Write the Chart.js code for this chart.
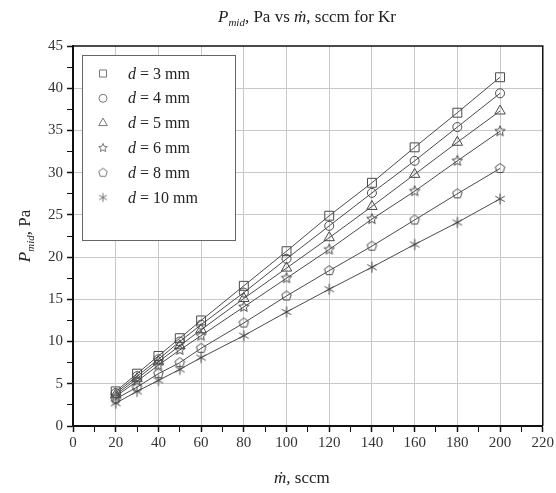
<!DOCTYPE html>
<html>
<head>
<meta charset="utf-8">
<script src="https://cdn.jsdelivr.net/npm/chart.js@4/dist/chart.umd.min.js"></script>
<style>
  body { margin: 0; background: #fff; }
  #wrap { width: 556px; height: 493px; }
</style>
</head>
<body>
<div id="wrap"><canvas id="pressureChart"></canvas></div>
<script>
const flowRates = [20, 30, 40, 50, 60, 80, 100, 120, 140, 160, 180, 200];

const d3mm  = [4.1, 6.2, 8.3, 10.4, 12.5, 16.6, 20.7, 24.9, 28.8, 33.0, 37.1, 41.3];
const d4mm  = [3.9, 5.9, 7.9, 10.0, 12.0, 15.8, 19.8, 23.7, 27.6, 31.4, 35.4, 39.4];
const d5mm  = [3.7, 5.6, 7.6, 9.5, 11.4, 15.1, 18.7, 22.3, 26.0, 29.8, 33.6, 37.3];
const d6mm  = [3.5, 5.3, 7.2, 9.0, 10.7, 14.1, 17.5, 20.9, 24.5, 27.8, 31.4, 34.9];
const d8mm  = [3.2, 4.6, 6.2, 7.5, 9.2, 12.2, 15.4, 18.4, 21.3, 24.4, 27.5, 30.5];
const d10mm = [2.7, 4.1, 5.4, 6.7, 8.1, 10.7, 13.5, 16.2, 18.8, 21.5, 24.1, 26.9];

const seriesNames = ['3', '4', '5', '6', '8', '10'];
const seriesValues = [d3mm, d4mm, d5mm, d6mm, d8mm, d10mm];

const xTicks = [0, 20, 40, 60, 80, 100, 120, 140, 160, 180, 200, 220];
const yTicks = [0, 5, 10, 15, 20, 25, 30, 35, 40, 45];

const ink = '#4a4a4a';
const serif = '"Liberation Serif", "DejaVu Serif", serif';

// small canvases for the markers chart.js does not have
function makeMarker(kind, r, color) {
    const s = Math.ceil(2 * r + 3);
    const c = document.createElement('canvas');
    c.width = s; c.height = s;
    const g = c.getContext('2d');
    const cx = s / 2, cy = s / 2;
    g.strokeStyle = color;
    g.lineWidth = 1;
    g.beginPath();
    if (kind === 'asterisk') {
        [90, 30, 150].forEach(a => {
            const t = a * Math.PI / 180;
            g.moveTo(cx - r * Math.cos(t), cy - r * Math.sin(t));
            g.lineTo(cx + r * Math.cos(t), cy + r * Math.sin(t));
        });
    } else {
        const n = kind === 'star' ? 10 : 5;
        for (let i = 0; i < n; i++) {
            const ang = -Math.PI / 2 + i * 2 * Math.PI / n;
            const rr = (kind === 'star' && i % 2) ? r * 0.45 : r;
            const px = cx + rr * Math.cos(ang), py = cy + rr * Math.sin(ang);
            if (i === 0) g.moveTo(px, py); else g.lineTo(px, py);
        }
        g.closePath();
    }
    g.stroke();
    return c;
}

const markers = ['rect', 'circle', 'triangle', makeMarker('star', 5.5, ink), makeMarker('pentagon', 5, ink), makeMarker('asterisk', 5.5, ink)];
const radii = [6.3, 4.5, 6, 5.5, 5, 5.5];

const legendMarkers = ['rect', 'circle', 'triangle', makeMarker('star', 4.5, '#777'), makeMarker('pentagon', 4.5, '#777'), makeMarker('asterisk', 4.5, '#777')];
const legendRadii = [5, 4, 5, 4.5, 4.5, 4.5];

const datasets = seriesValues.map((vals, i) => ({
    label: 'd = ' + seriesNames[i] + ' mm',
    data: vals.map((v, j) => ({ x: flowRates[j], y: v })),
    borderColor: ink,
    borderWidth: 1,
    pointStyle: markers[i],
    pointRadius: radii[i],
    pointBorderColor: ink,
    pointBackgroundColor: 'transparent',
    pointBorderWidth: 1,
    showLine: true,
    tension: 0
}));

function drawRuns(ctx, runs, x, y) {
    // runs: [text, font, dy]
    let cx = x;
    runs.forEach(([t, f, dy]) => {
        ctx.font = f;
        ctx.fillText(t, cx, y + (dy || 0));
        cx += ctx.measureText(t).width;
    });
}
function runsWidth(ctx, runs) {
    let w = 0;
    runs.forEach(([t, f]) => { ctx.font = f; w += ctx.measureText(t).width; });
    return w;
}

const decorations = {
    id: 'decorations',
    afterDraw(chart) {
        const ctx = chart.ctx;
        const a = chart.chartArea;
        ctx.save();

        // frame top/right
        ctx.strokeStyle = '#111';
        ctx.lineWidth = 1.5;
        ctx.beginPath();
        ctx.moveTo(a.left, a.top); ctx.lineTo(a.right, a.top); ctx.lineTo(a.right, a.bottom);
        ctx.stroke();

        ctx.fillStyle = '#222';
        ctx.textBaseline = 'alphabetic';

        // title
        const title = [
            ['P', 'italic 17px ' + serif],
            ['mid', 'italic 11px ' + serif, 4],
            [',', 'italic 17px ' + serif],
            [' Pa vs ', '17px ' + serif],
            ['\u1E41', 'italic 17px ' + serif],
            [', sccm for Kr', '17px ' + serif]
        ];
        drawRuns(ctx, title, 307 - runsWidth(ctx, title) / 2, 22);

        // x axis title
        const xt = [['\u1E41', 'italic 17px ' + serif], [', sccm', '17px ' + serif]];
        drawRuns(ctx, xt, (a.left + a.right) / 2 - 6 - runsWidth(ctx, xt) / 2, 483);

        // y axis title
        const yt = [
            ['P', 'italic 17px ' + serif],
            ['mid', 'italic 11px ' + serif, 4],
            [',', 'italic 17px ' + serif],
            [' Pa', '17px ' + serif]
        ];
        ctx.save();
        ctx.translate(30, (a.top + a.bottom) / 2);
        ctx.rotate(-Math.PI / 2);
        drawRuns(ctx, yt, -runsWidth(ctx, yt) / 2, 0);
        ctx.restore();

        // legend box
        ctx.strokeStyle = '#666';
        ctx.lineWidth = 1;
        ctx.fillStyle = '#fff';
        ctx.fillRect(82, 55, 153, 185);
        ctx.strokeRect(82.5, 55.5, 153, 185);
        chart.data.datasets.forEach((ds, i) => {
            const y = 73.5 + i * 24.8;
            ctx.strokeStyle = '#777';
            ctx.fillStyle = 'transparent';
            Chart.helpers.drawPoint(ctx, {
                pointStyle: legendMarkers[i], radius: legendRadii[i],
                borderWidth: 1, rotation: 0
            }, 103, y);
            ctx.fillStyle = '#222';
            drawRuns(ctx, [['d', 'italic 16px ' + serif], [' = ' + seriesNames[i] + ' mm', '16px ' + serif]], 128, y + 5);
        });
        ctx.restore();
    }
};

const ctx = document.getElementById('pressureChart').getContext('2d');

new Chart(ctx, {
    type: 'scatter',
    data: { datasets: datasets },
    options: {
        responsive: true,
        maintainAspectRatio: false,
        animation: false,
        layout: { padding: { top: 46, right: 12, left: 0, bottom: 0 } },
        plugins: {
            legend: { display: false },
            title: { display: false },
            tooltip: { enabled: false }
        },
        scales: {
            x: {
                type: 'linear',
                min: 0, max: 220,
                afterFit(s) { s.height = 67; },
                afterBuildTicks(s) {
                    const t = [];
                    for (let v = 0; v <= 220; v += 10) t.push({ value: v });
                    s.ticks = t;
                },
                ticks: {
                    autoSkip: false,
                    maxRotation: 0,
                    color: '#333',
                    font: { family: serif, size: 15 },
                    padding: 2,
                    callback: v => xTicks.includes(v) ? v : ''
                },
                grid: {
                    color: c => xTicks.includes(c.tick.value) && c.tick.value > 0 && c.tick.value < 220 ? '#c8c8c8' : 'transparent',
                    tickColor: '#111',
                    tickLength: 6,
                    tickWidth: c => xTicks.includes(c.tick.value) ? 1.5 : 1
                },
                border: { color: '#111', width: 2 }
            },
            y: {
                min: 0, max: 45,
                afterFit(s) { s.width = 73; },
                afterBuildTicks(s) {
                    const t = [];
                    for (let v = 0; v <= 45; v += 2.5) t.push({ value: v });
                    s.ticks = t;
                },
                ticks: {
                    autoSkip: false,
                    color: '#333',
                    font: { family: serif, size: 15 },
                    padding: 4,
                    callback: v => yTicks.includes(v) ? v : ''
                },
                grid: {
                    color: c => yTicks.includes(c.tick.value) && c.tick.value > 0 && c.tick.value < 45 ? '#c8c8c8' : 'transparent',
                    tickColor: '#111',
                    tickLength: 6,
                    tickWidth: c => yTicks.includes(c.tick.value) ? 1.5 : 1
                },
                border: { color: '#111', width: 2 }
            }
        }
    },
    plugins: [decorations]
});
</script>
</body>
</html>
